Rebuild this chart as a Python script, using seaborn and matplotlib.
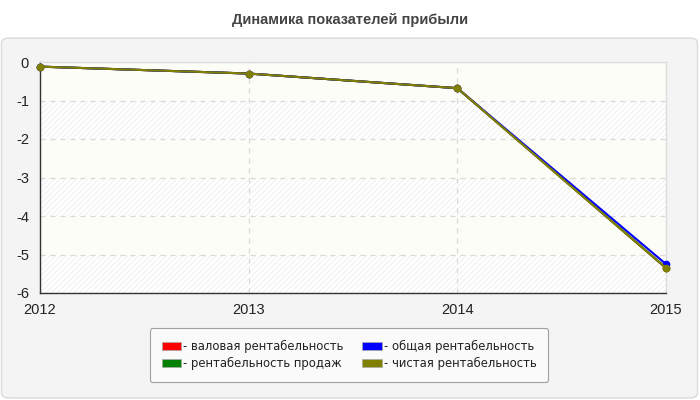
import matplotlib
matplotlib.use('Agg')
import matplotlib.pyplot as plt
from matplotlib.patches import FancyBboxPatch, Patch
import pandas as pd
import seaborn as sns

years = [2012, 2013, 2014, 2015]
gross = [-0.12, -0.30, -0.68, -5.35]
total = [-0.12, -0.30, -0.68, -5.25]
sales = [-0.12, -0.30, -0.68, -5.35]
net = [-0.12, -0.30, -0.68, -5.35]

names = ['- валовая рентабельность', '- общая рентабельность',
         '- рентабельность продаж', '- чистая рентабельность']
colors = ['#ff0000', '#0000ff', '#008000', '#808000']
series = [gross, total, sales, net]
# draw order: red, green, blue, olive on top
order = [0, 2, 1, 3]

rows = []
for i in order:
    for y, v in zip(years, series[i]):
        rows.append({'year': y, 'value': v, 'name': names[i]})
df = pd.DataFrame(rows)

sns.set_style('white')
plt.rcParams['font.family'] = ['DejaVu Sans']
plt.rcParams['axes.unicode_minus'] = False
plt.rcParams['hatch.color'] = '#ececec'
plt.rcParams['hatch.linewidth'] = 0.6

fig = plt.figure(figsize=(7, 4), dpi=100)
fig.patch.set_facecolor('white')
panel = FancyBboxPatch((1.5 / 700, 2 / 400), 696 / 700, 360 / 400,
                       boxstyle='round,pad=0,rounding_size=0.012',
                       transform=fig.transFigure, facecolor='#f4f4f4',
                       edgecolor='#dadada', linewidth=1, zorder=-5)
fig.patches.append(panel)

ax = fig.add_axes([40 / 700, 107 / 400, 626 / 700, 231 / 400])
ax.set_zorder(2)
ax.set_facecolor('#fdfdf7')
for k in range(6):
    if k % 2 == 1:
        ax.axhspan(-k - 1, -k, facecolor='white', hatch='//////',
                   edgecolor='#ededed', linewidth=0, zorder=0)

sns.lineplot(data=df, x='year', y='value', hue='name',
             hue_order=[names[i] for i in order],
             palette=[colors[i] for i in order], marker='o',
             markersize=5.5, markeredgewidth=0, linewidth=1.5,
             legend=False, ax=ax, zorder=3, clip_on=False)

ax.set_xlim(2012, 2015)
ax.set_ylim(-6, 0)
ax.set_xticks(years)
ax.set_yticks(range(-6, 1))
ax.set_xlabel('')
ax.set_ylabel('')
ax.tick_params(axis='both', colors='#222222',
               length=5, width=1, direction='out', pad=2)
ax.tick_params(axis='y', pad=3)
ax.grid(True, color='#d8d8d8', linestyle=(0, (4, 4)), linewidth=0.9)
ax.set_axisbelow(True)
for s in ['top', 'right']:
    ax.spines[s].set_color('#dddddd')
    ax.spines[s].set_linewidth(1)
for s in ['left', 'bottom']:
    ax.spines[s].set_color('#333333')
    ax.spines[s].set_linewidth(1)
for lab in ax.get_xticklabels() + ax.get_yticklabels():
    lab.set_family('Liberation Sans')
    lab.set_fontsize(10.5)

fig.text(0.5, 1 - 20 / 400, 'Динамика показателей прибыли', ha='center',
         va='center', fontsize=10.5, fontweight='bold', color='#444444',
         family='Liberation Sans')

handles = [Patch(facecolor=colors[i], edgecolor='#aaaaaa', linewidth=0.5)
           for i in order]
leg = fig.legend(handles, [names[i] for i in order], loc='center', ncol=2,
                 bbox_to_anchor=(349 / 700, 1 - 355 / 400), fontsize=8.4,
                 frameon=True, fancybox=True, edgecolor='#a0a0a0',
                 facecolor='#fafafa', framealpha=1, handlelength=1.7,
                 handleheight=0.7, handletextpad=0.15, columnspacing=1.6,
                 labelspacing=0.35, borderpad=1.0, labelcolor='#222222')
leg.get_frame().set_linewidth(0.8)
leg.set_zorder(3)

fig.savefig('out.png', dpi=100)
